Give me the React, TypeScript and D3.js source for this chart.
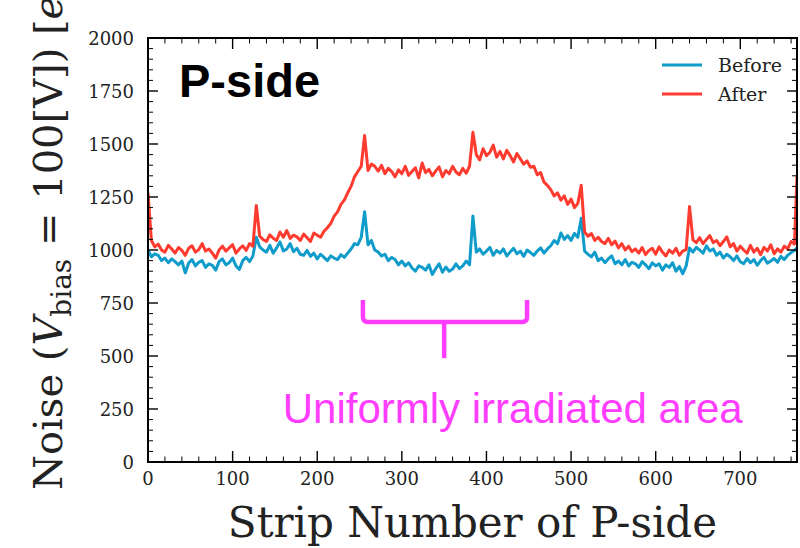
import React from 'react';
import * as d3 from 'd3';

// Strip numbers (every 4th strip + the last one)
const strips: number[] = [...d3.range(0, 768, 4), 767];

const before: number[] = [
  // 0-124
  1000, 968, 982, 975, 950, 962, 940, 958, 945, 930, 948, 892, 938, 955, 925, 942,
  950, 918, 935, 928, 905, 945, 958, 930, 940, 962, 925, 908, 950, 965, 945, 972,
  // 128
  1060,
  // 132-252
  1015, 1000, 990, 1022, 985, 1010, 1038, 995, 1005, 1030, 992, 1008, 980, 975, 998, 970,
  985, 958, 980, 965, 950, 972, 962, 955, 978, 965, 985, 1005, 1030, 1025, 1060,
  // 256
  1180,
  // 260-380
  1025, 1045, 1000, 990, 972, 980, 950, 965, 955, 930, 948, 925, 940, 915, 900, 925,
  918, 905, 930, 885, 912, 935, 895, 920, 900, 910, 935, 912, 925, 948, 930,
  // 384
  1160,
  // 388-508
  990, 1005, 980, 995, 1012, 975, 998, 985, 1005, 972, 990, 1008, 982, 995, 970, 1000,
  988, 975, 995, 1010, 985, 1005, 1020, 1045, 1030, 1080, 1050, 1068, 1045, 1078, 1060,
  // 512
  1150,
  // 516-636
  995, 980, 968, 990, 950, 962, 940, 958, 972, 935, 948, 930, 955, 925, 942, 935,
  918, 945, 930, 912, 940, 925, 935, 905, 930, 918, 940, 900, 922, 888, 925,
  // 640
  1010,
  // 644-764
  990, 1012, 1000, 985, 1020, 995, 1005, 975, 990, 962, 980, 968, 950, 972, 945, 935,
  960, 940, 955, 928, 950, 965, 938, 948, 960, 942, 970, 955, 975, 988, 998,
  // 767
  1010,
];

const after: number[] = [
  // 0-124
  1270, 1045, 1015, 1028, 1000, 990, 1022, 1005, 985, 1012, 998, 975, 1008, 1020, 990, 1002,
  1030, 995, 1005, 985, 962, 1000, 1018, 995, 1010, 1025, 985, 1005, 1020, 998, 1030, 1018,
  // 128
  1210,
  // 132-252
  1065, 1050, 1040, 1072, 1055, 1045, 1085, 1060, 1092, 1055, 1070, 1062, 1045, 1075, 1058, 1040,
  1080, 1070, 1060, 1088, 1105, 1125, 1160, 1180, 1215, 1235, 1270, 1300, 1345, 1370, 1395,
  // 256
  1540,
  // 260-380
  1375, 1405, 1395, 1372, 1400, 1360, 1385, 1370, 1345, 1378, 1360, 1395, 1352, 1370, 1388, 1340,
  1410, 1365, 1380, 1350, 1372, 1392, 1345, 1375, 1360, 1395, 1368, 1355, 1385, 1362, 1395,
  // 384
  1555,
  // 388-508
  1450, 1425, 1478, 1445, 1460, 1495, 1438, 1465, 1430, 1470, 1445, 1415, 1455, 1430, 1405, 1420,
  1390, 1395, 1355, 1365, 1320, 1305, 1285, 1255, 1270, 1235, 1255, 1215, 1240, 1200, 1220,
  // 512
  1305,
  // 516-636
  1085, 1065, 1078, 1045, 1060, 1040, 1030, 1055, 1025, 1042, 1010, 1030, 1000, 1018, 992, 1005,
  985, 1012, 978, 998, 1008, 980, 1015, 990, 972, 1000, 985, 1008, 975, 995, 1002,
  // 640
  1205,
  // 644-764
  1048, 1035, 1058, 1030, 1050, 1068, 1035, 1045, 1020, 1040, 1062, 1015, 1030, 995, 1018, 1000,
  985, 1022, 990, 1008, 978, 1012, 995, 1025, 982, 1005, 990, 1018, 1005, 1040, 1028,
  // 767
  1350,
];

const seriesNames = ['Before', 'After'];
const seriesColors = ['#0f9ccb', '#ff3b30'];
const xTicks = [0, 100, 200, 300, 400, 500, 600, 700];
const yTicks = [0, 250, 500, 750, 1000, 1250, 1500, 1750, 2000];
const xMinor = d3.range(0, 768, 20).filter((v) => v % 100 !== 0);
const yMinor = d3.range(0, 2001, 50).filter((v) => v % 250 !== 0);

// Annotation (data coordinates)
const bracketLeft = 254;
const bracketRight = 448;
const bracketMid = 350;
const bracketTop = 764;
const bracketBar = 660;
const bracketStem = 490;
const annotText = 'Uniformly irradiated area';

export default function App() {
  const W = 800;
  const H = 548;
  const L = 148, R = 797, T = 38, B = 462;
  const x = d3.scaleLinear().domain([0, 767]).range([L, R]);
  const y = d3.scaleLinear().domain([0, 2000]).range([B, T]);
  const mk = (vals: number[]) =>
    d3.line<number>().x((_, i) => x(strips[i])).y((d) => y(d))(vals) || '';
  const serif = "'DejaVu Serif', serif";
  const magenta = '#ff3dff';
  const r = 5;
  const bx1 = x(bracketLeft), bx2 = x(bracketRight), bm = x(bracketMid);
  const by1 = y(bracketTop), by2 = y(bracketBar), by3 = y(bracketStem);
  const bracketPath = `M${bx1},${by1} L${bx1},${by2 - r} Q${bx1},${by2} ${bx1 + r},${by2} L${bx2 - r},${by2} Q${bx2},${by2} ${bx2},${by2 - r} L${bx2},${by1}`;

  return (
    <svg width={W} height={H} style={{ position: 'absolute', left: 0, top: 0, background: '#fff' }}>
      <defs>
        <clipPath id="plot">
          <rect x={L} y={T} width={R - L} height={B - T} />
        </clipPath>
      </defs>
      <rect x={0} y={0} width={W} height={H} fill="#fff" />
      <g clipPath="url(#plot)">
        <path d={mk(before)} fill="none" stroke={seriesColors[0]} strokeWidth={3} strokeLinejoin="round" />
        <path d={mk(after)} fill="none" stroke={seriesColors[1]} strokeWidth={3} strokeLinejoin="round" />
      </g>
      {/* ticks */}
      <g stroke="#000">
        {xTicks.map((t) => (
          <g key={'xt' + t}>
            <line x1={x(t)} x2={x(t)} y1={B} y2={B - 11} strokeWidth={1.4} />
            <line x1={x(t)} x2={x(t)} y1={T} y2={T + 11} strokeWidth={1.4} />
          </g>
        ))}
        {xMinor.map((t) => (
          <g key={'xm' + t}>
            <line x1={x(t)} x2={x(t)} y1={B} y2={B - 5.5} strokeWidth={1} />
            <line x1={x(t)} x2={x(t)} y1={T} y2={T + 5.5} strokeWidth={1} />
          </g>
        ))}
        {yTicks.map((t) => (
          <g key={'yt' + t}>
            <line x1={L} x2={L + 10} y1={y(t)} y2={y(t)} strokeWidth={1.4} />
            <line x1={R} x2={R - 10} y1={y(t)} y2={y(t)} strokeWidth={1.4} />
          </g>
        ))}
        {yMinor.map((t) => (
          <g key={'ym' + t}>
            <line x1={L} x2={L + 5} y1={y(t)} y2={y(t)} strokeWidth={1} />
            <line x1={R} x2={R - 5} y1={y(t)} y2={y(t)} strokeWidth={1} />
          </g>
        ))}
      </g>
      <rect x={L} y={T} width={R - L} height={B - T} fill="none" stroke="#000" strokeWidth={2} />
      {/* tick labels */}
      <g fontFamily={serif} fontSize={18} fill="#222">
        {xTicks.map((t) => (
          <text key={'xl' + t} x={x(t)} y={B + 23} textAnchor="middle">{t}</text>
        ))}
        {yTicks.map((t) => (
          <text key={'yl' + t} x={L - 14} y={y(t) + 6.5} textAnchor="end">{t}</text>
        ))}
      </g>
      {/* axis labels */}
      <text x={(L + R) / 2} y={537} textAnchor="middle" fontFamily={serif} fontSize={42} fill="#222">
        Strip Number of P-side
      </text>
      <text transform="rotate(-90)" x={-490} y={62} textAnchor="start" fontFamily={serif} fontSize={40} fill="#222">
        Noise (<tspan fontStyle="italic">V</tspan>
        <tspan fontSize={28} dy={9}>bias</tspan>
        <tspan dy={-9}> = 100[V]) [</tspan>
        <tspan fontStyle="italic">e</tspan>]
      </text>
      {/* panel label */}
      <text x={179} y={97} fontFamily="'Liberation Sans', Arial, sans-serif" fontWeight="bold" fontSize={47} fill="#000">
        P-side
      </text>
      {/* legend */}
      {seriesNames.map((n, i) => (
        <g key={n}>
          <line x1={662} x2={702} y1={65 + i * 29} y2={65 + i * 29} stroke={seriesColors[i]} strokeWidth={3} />
          <text x={718} y={72 + i * 29} fontFamily={serif} fontSize={19} fill="#222">{n}</text>
        </g>
      ))}
      {/* annotation */}
      <path d={bracketPath} fill="none" stroke={magenta} strokeWidth={4.5} />
      <line x1={bm} x2={bm} y1={by2} y2={by3} stroke={magenta} strokeWidth={4.5} />
      <text x={x(431)} y={y(184)} textAnchor="middle" fontFamily="'Liberation Sans', Arial, sans-serif" fontSize={42} fill={magenta}>
        {annotText}
      </text>
    </svg>
  );
}
